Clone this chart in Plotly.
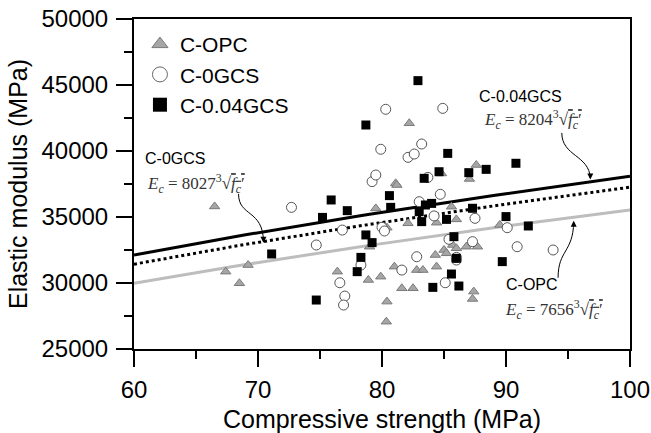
import numpy as np
import plotly.graph_objects as go

# ---- data ----
opc_x = [66.5, 67.4, 68.5, 69.2, 76.4, 78.9, 79.0, 79.5, 79.9, 80.4, 80.4, 80.35, 81.0, 81.1, 81.2,
         81.6, 82.1, 82.2, 82.5, 82.8, 83.3, 84.3, 84.4, 84.4, 84.8, 85.0, 85.2, 85.6, 85.7, 86.0,
         86.0, 86.8, 87.05, 87.6, 87.7, 87.4, 87.3, 89.5]
opc_y = [35800, 30860, 29980, 31360, 30860, 30230, 32750, 35650, 30480, 34190, 28590, 27070, 31240, 37550, 37420,
         29600, 34520, 42100, 29600, 30980, 30980, 32120, 34570, 31240, 38300, 32500, 32250, 35780, 32880, 34820,
         32630, 32750, 37880, 38940, 32750, 29350, 28790, 34400]

gcs0_x = [72.7, 74.7, 76.6, 76.8, 77.0, 76.9, 78.3, 79.2, 79.5, 79.9, 80.0, 80.2, 80.3, 81.6, 82.1, 82.6,
          82.8, 83.0, 83.2, 83.7, 84.2, 84.7, 84.9, 85.1, 85.4, 86.0, 86.0, 87.3, 87.5, 90.1, 90.9, 93.8]
gcs0_y = [35730, 32880, 30020, 34010, 29010, 28330, 31360, 37680, 38180, 40130, 34220, 33940, 43160, 30980, 39520, 39770,
          31990, 36160, 40530, 38000, 35080, 36720, 43230, 30020, 33310, 31740, 31940, 33130, 34900, 34190, 32750, 32500]

gcs04_x = [71.1, 74.7, 75.2, 75.9, 77.2, 78.0, 78.3, 78.7, 78.7, 79.2, 80.6, 80.7, 82.9, 83.0, 83.2, 83.4, 83.5,
           84.0, 84.1, 84.6, 85.2, 85.3, 85.6, 85.8, 86.0, 86.2, 87.0, 87.3, 88.4, 89.7, 90.0, 90.8, 91.8]
gcs04_y = [32200, 28710, 34970, 36290, 35480, 30860, 31940, 33640, 41970, 33060, 36620, 35730, 45330, 35400, 34650, 37930, 35910,
           36030, 29670, 38430, 34820, 39820, 30680, 33510, 31870, 29770, 38360, 35660, 38610, 31620, 35030, 39070, 34320]

series_names = ["C-OPC", "C-0GCS", "C-0.04GCS"]
fit_coef = [7656, 8027, 8204]          # E_c = k * cbrt(f_c')
fit_x = np.linspace(60, 100, 41)

x_ticks = [60, 70, 80, 90, 100]
x_ticktext = ["60", "70", "80", "90", "100"]
y_ticks = [25000, 30000, 35000, 40000, 45000, 50000]
y_ticktext = ["25000", "30000", "35000", "40000", "45000", "50000"]

FONT = "Liberation Sans, Arial, sans-serif"
SERIF = "Liberation Serif, DejaVu Serif, serif"

fig = go.Figure()

# fit lines
line_styles = [dict(color="#bdbdbd", width=3, dash="solid"),
               dict(color="black", width=3, dash="dot"),
               dict(color="black", width=3, dash="solid")]
for k, ls in zip(fit_coef, line_styles):
    fig.add_trace(go.Scatter(x=fit_x, y=k * np.cbrt(fit_x), mode="lines", line=ls,
                             showlegend=False, hoverinfo="skip"))

tri = dict(symbol="triangle-up", color="#a6a6a6", line=dict(color="#7a7a7a", width=1))
sq = dict(symbol="square", color="black", line=dict(color="black", width=0))

fig.add_trace(go.Scatter(x=opc_x, y=opc_y, mode="markers", marker=dict(size=9, **tri), showlegend=False))
fig.add_trace(go.Scatter(x=gcs0_x, y=gcs0_y, mode="markers",
                         marker=dict(size=10, symbol="circle", color="white", line=dict(color="#555555", width=1)),
                         showlegend=False))
fig.add_trace(go.Scatter(x=gcs04_x, y=gcs04_y, mode="markers", marker=dict(size=9, **sq), showlegend=False))

# legend entries with larger symbols
fig.add_trace(go.Scatter(x=[None], y=[None], mode="markers", name=series_names[0], marker=dict(size=14, **tri)))
fig.add_trace(go.Scatter(x=[None], y=[None], mode="markers", name=series_names[1],
                         marker=dict(size=15, symbol="circle", color="white", line=dict(color="#666666", width=1))))
fig.add_trace(go.Scatter(x=[None], y=[None], mode="markers", name=series_names[2], marker=dict(size=14, **sq)))

def eq(k):
    return ("<i>E<sub>c</sub></i> = %d<sup>3</sup>√<span style='text-decoration:overline'>"
            "<i>f<sub>c</sub></i>′</span>" % k)

labels = [
    dict(x=87.66, y=44096, text="C-0.04GCS", font=dict(family=FONT, size=16, color="black")),
    dict(x=88.10, y=42355, text=eq(fit_coef[2]), font=dict(family=SERIF, size=17, color="#333333")),
    dict(x=60.70, y=39404, text="C-0GCS", font=dict(family=FONT, size=16, color="black")),
    dict(x=60.86, y=37511, text=eq(fit_coef[1]), font=dict(family=SERIF, size=17, color="#333333")),
    dict(x=89.84, y=29867, text="C-OPC", font=dict(family=FONT, size=16, color="black")),
    dict(x=89.76, y=27975, text=eq(fit_coef[0]), font=dict(family=SERIF, size=17, color="#333333")),
]
for a in labels:
    fig.add_annotation(xref="x", yref="y", showarrow=False, xanchor="left", yanchor="middle", **a)

# curved arrows
paths = [
    "M 68.43,36755 C 68.43,35000 70.4,35600 70.44,33150",
    "M 94.5,41370 C 94.5,39600 96.7,39700 96.8,37950",
    "M 94.2,30400 C 94.2,32500 95.4,32300 95.46,34600",
]
for p in paths:
    fig.add_shape(type="path", path=p, xref="x", yref="y", line=dict(color="black", width=1))
heads = [(70.44, 33050, -7), (96.8, 37850, -7), (95.46, 34711, 7)]
for hx, hy, ay in heads:
    fig.add_annotation(x=hx, y=hy, xref="x", yref="y", text="", showarrow=True, arrowhead=2,
                       arrowsize=1.2, arrowwidth=1, arrowcolor="black", ax=0, ay=ay, standoff=0)

axis_common = dict(showgrid=False, zeroline=False, showline=True, linecolor="black", linewidth=2,
                   mirror=True, ticks="outside", ticklen=16, tickwidth=2, tickcolor="black", automargin=False,
                   ticklabeloverflow="allow", tickfont=dict(family=FONT, size=24, color="black"))

fig.update_xaxes(range=[60, 100], tickvals=x_ticks, ticktext=x_ticktext, ticklabelstandoff=2,
                 minor=dict(tickvals=[65, 75, 85, 95], ticklen=8, tickwidth=2, tickcolor="black", ticks="outside"),
                 title=dict(text="Compressive strength (MPa)", font=dict(family=FONT, size=25, color="black"), standoff=11),
                 **axis_common)
fig.update_yaxes(range=[25000, 50000], tickvals=y_ticks, ticktext=y_ticktext, ticklabelstandoff=3,
                 minor=dict(tickvals=[27500, 32500, 37500, 42500, 47500], ticklen=8, tickwidth=2, tickcolor="black", ticks="outside"),
                 title=dict(text="Elastic modulus (MPa)", font=dict(family=FONT, size=25, color="black"), standoff=7),
                 **axis_common)

fig.update_layout(
    width=651, height=433,
    margin=dict(l=134, r=21, t=19, b=84),
    paper_bgcolor="white", plot_bgcolor="white",
    legend=dict(x=0.012, y=0.985, xanchor="left", yanchor="top", bgcolor="rgba(0,0,0,0)",
                font=dict(family=FONT, size=21, color="black"), tracegroupgap=0, itemwidth=30),
)

# remove the default 8px page margin so the figure sits at the window's top-left corner
fig.write_html("out.html", config={"displayModeBar": False},
               post_script="document.body.style.margin='0px';")
